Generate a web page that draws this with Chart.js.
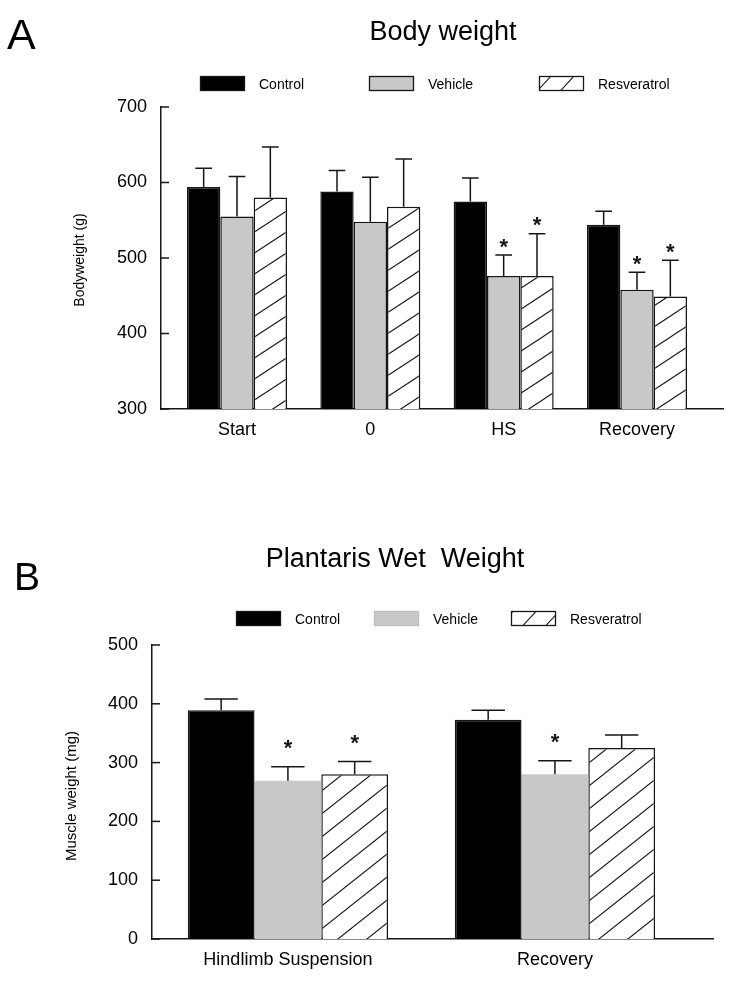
<!DOCTYPE html>
<html>
<head>
<meta charset="utf-8">
<title>Body weight / Plantaris wet weight</title>
<script src="https://cdn.jsdelivr.net/npm/chart.js@4.4.1/dist/chart.umd.min.js"></script>
<style>
  html, body { margin: 0; padding: 0; background: #fff; }
  .panel { width: 736px; height: 494px; }
  canvas { display: block; }
</style>
</head>
<body>
<div class="panel"><canvas id="chartA" width="736" height="494"></canvas></div>
<div class="panel"><canvas id="chartB" width="736" height="494"></canvas></div>
<script>
// ------------------------------------------------------------
// Data
// ------------------------------------------------------------
const groupNames = ['Control', 'Vehicle', 'Resveratrol'];

// Panel A - body weight (g)
const timepointsA = ['Start', '0', 'HS', 'Recovery'];
const controlA = [594, 588, 575, 544];
const controlErrA = [25, 28, 31, 18];
const vehicleA = [555, 548, 476, 458];
const vehicleErrA = [53, 59, 28, 23];
const resveratrolA = [580, 568, 476, 449];
const resveratrolErrA = [67, 63, 56, 48];
const vehicleSigA = [false, false, true, true];
const resveratrolSigA = [false, false, true, true];
const yTicksA = [300, 400, 500, 600, 700];

// Panel B - plantaris wet weight (mg)
const conditionsB = ['Hindlimb Suspension', 'Recovery'];
const controlB = [389, 373];
const controlErrB = [19, 16];
const vehicleB = [269, 280];
const vehicleErrB = [24, 23];
const resveratrolB = [280, 325];
const resveratrolErrB = [22, 22];
const vehicleSigB = [true, true];
const resveratrolSigB = [true, false];
const yTicksB = [0, 100, 200, 300, 400, 500];

// ------------------------------------------------------------
const INK = '#161616';
const GREY = '#c8c8c8';
const FONT = "'Liberation Sans', Arial, Helvetica, sans-serif";

function makeHatch(w, h, lw) {
  const tile = document.createElement('canvas');
  tile.width = w;
  tile.height = h;
  const c = tile.getContext('2d');
  c.fillStyle = '#fff';
  c.fillRect(0, 0, w, h);
  c.strokeStyle = INK;
  c.lineWidth = lw;
  c.beginPath();
  [-1, 0, 1].forEach(k => {
    c.moveTo(-w, 2 * h + k * h);
    c.lineTo(2 * w, -h + k * h);
  });
  c.stroke();
  return c.createPattern(tile, 'repeat');
}

function series(label, values, errs, sig, fill, stroke, bw) {
  return {
    label,
    data: values.map((v, i) => ({ x: i, y: v })),
    err: errs,
    sig,
    backgroundColor: fill,
    borderColor: stroke,
    borderWidth: bw,
    barPercentage: 1,
    categoryPercentage: 0.75,
  };
}

// Draws error bars, asterisks, inward y ticks, titles and the legend
function figurePlugin(fig) {
  return {
    id: 'figure',
    afterDatasetsDraw(chart) {
      const ctx = chart.ctx;
      const ys = chart.scales.y;
      ctx.save();
      chart.data.datasets.forEach((ds, d) => {
        const meta = chart.getDatasetMeta(d);
        meta.data.forEach((bar, i) => {
          const top = ys.getPixelForValue(ds.data[i].y);
          const cap = ys.getPixelForValue(ds.data[i].y + ds.err[i]);
          const half = bar.width / 4;
          ctx.strokeStyle = INK;
          ctx.lineWidth = 1.5;
          ctx.beginPath();
          ctx.moveTo(bar.x, top);
          ctx.lineTo(bar.x, cap);
          ctx.moveTo(bar.x - half, cap);
          ctx.lineTo(bar.x + half, cap);
          ctx.stroke();
          if (ds.sig && ds.sig[i]) {
            ctx.fillStyle = INK;
            ctx.font = 'bold 22px ' + FONT;
            ctx.textAlign = 'center';
            ctx.textBaseline = 'alphabetic';
            ctx.fillText('*', bar.x, cap - fig.starGap + 12.6);
          }
        });
      });
      ctx.restore();
    },
    afterDraw(chart) {
      const ctx = chart.ctx;
      const ys = chart.scales.y;
      const left = chart.chartArea.left;
      ctx.save();
      // tick marks point into the plot
      ctx.strokeStyle = INK;
      ctx.lineWidth = 1.5;
      ys.ticks.forEach(t => {
        const py = ys.getPixelForValue(t.value);
        ctx.beginPath();
        ctx.moveTo(left, py);
        ctx.lineTo(left + 8, py);
        ctx.stroke();
      });

      ctx.fillStyle = '#000';
      ctx.textBaseline = 'alphabetic';
      ctx.textAlign = 'left';
      ctx.font = fig.letterSize + 'px ' + FONT;
      ctx.fillText(fig.letter, fig.letterX, fig.letterY);

      ctx.textAlign = 'center';
      ctx.font = fig.titleSize + 'px ' + FONT;
      ctx.fillText(fig.title, fig.titleX, fig.titleY);

      // y title
      ctx.save();
      ctx.translate(fig.yTitleX, fig.yTitleY);
      ctx.rotate(-Math.PI / 2);
      ctx.textBaseline = 'middle';
      ctx.font = fig.yTitleSize + 'px ' + FONT;
      ctx.fillText(fig.yTitle, 0, 0);
      ctx.restore();

      // legend
      chart.data.datasets.forEach((ds, d) => {
        const sx = fig.legendX[d];
        const sy = fig.legendY;
        ctx.fillStyle = fig.legendFill[d] || ds.backgroundColor;
        ctx.fillRect(sx, sy, 45, 15);
        ctx.strokeStyle = fig.legendStroke[d];
        ctx.lineWidth = 1.3;
        ctx.strokeRect(sx + 0.5, sy + 0.5, 44, 14);
        ctx.fillStyle = '#000';
        ctx.textAlign = 'left';
        ctx.textBaseline = 'middle';
        ctx.font = '14px ' + FONT;
        ctx.fillText(ds.label, sx + 59, sy + 9);
      });
      ctx.restore();
    }
  };
}

function barOptions(p) {
  return {
    responsive: false,
    animation: false,
    layout: { padding: p.padding },
    plugins: { legend: { display: false }, tooltip: { enabled: false } },
    scales: {
      x: {
        type: 'linear',
        offset: false,
        min: p.xMin,
        max: p.xMax,
        grid: { display: false, drawTicks: false },
        border: { display: true, color: INK, width: 1.5 },
        afterBuildTicks: s => { s.ticks = p.labels.map((_, i) => ({ value: i })); },
        afterFit: s => { s.height = p.xHeight; },
        ticks: {
          autoSkip: false, maxRotation: 0, padding: 10, color: '#000',
          font: { family: FONT, size: 18 },
          callback: v => p.labels[v]
        }
      },
      y: {
        min: p.yMin,
        max: p.yMax,
        grid: { display: false, drawTicks: false },
        border: { display: true, color: INK, width: 1.5 },
        afterBuildTicks: s => { s.ticks = p.yTicks.map(v => ({ value: v })); },
        afterFit: s => { s.width = p.yWidth; },
        ticks: { padding: 14, color: '#000', font: { family: FONT, size: 18 } }
      }
    }
  };
}

const hatchA = makeHatch(32, 21, 1.1);
const hatchB = makeHatch(29, 23, 1.1);
const hatchLegend = makeHatch(23, 25, 1.1);

new Chart(document.getElementById('chartA'), {
  type: 'bar',
  data: {
    datasets: [
      series(groupNames[0], controlA, controlErrA, null, '#000', INK, 1.5),
      series(groupNames[1], vehicleA, vehicleErrA, vehicleSigA, GREY, INK, 1.5),
      series(groupNames[2], resveratrolA, resveratrolErrA, resveratrolSigA, hatchA, INK, 1.5),
    ]
  },
  options: barOptions({
    labels: timepointsA, yTicks: yTicksA,
    xMin: -0.57, xMax: 3.645, yMin: 300, yMax: 700,
    padding: { top: 107, right: 13, bottom: 25, left: 0 },
    xHeight: 60, yWidth: 161
  }),
  plugins: [figurePlugin({
    letter: 'A', letterSize: 43, letterX: 7, letterY: 49,
    title: 'Body weight', titleSize: 27, titleX: 443, titleY: 40,
    yTitle: 'Bodyweight (g)', yTitleX: 80, yTitleY: 260, yTitleSize: 14,
    legendX: [200, 369, 539], legendY: 76,
    legendFill: [null, null, hatchLegend],
    legendStroke: [INK, INK, INK],
    starGap: 14
  })]
});

new Chart(document.getElementById('chartB'), {
  type: 'bar',
  data: {
    datasets: [
      series(groupNames[0], controlB, controlErrB, null, '#000', INK, 1.5),
      series(groupNames[1], vehicleB, vehicleErrB, vehicleSigB, GREY, GREY, 0),
      series(groupNames[2], resveratrolB, resveratrolErrB, resveratrolSigB, hatchB, INK, 1.5),
    ]
  },
  options: barOptions({
    labels: conditionsB, yTicks: yTicksB,
    xMin: -0.509, xMax: 1.592, yMin: 0, yMax: 500,
    padding: { top: 151, right: 23, bottom: 9, left: 0 },
    xHeight: 40, yWidth: 152
  }),
  plugins: [figurePlugin({
    letter: 'B', letterSize: 39, letterX: 14, letterY: 96,
    title: 'Plantaris Wet  Weight', titleSize: 27, titleX: 395, titleY: 73,
    yTitle: 'Muscle weight (mg)', yTitleX: 72, yTitleY: 302, yTitleSize: 15,
    legendX: [236, 374, 511], legendY: 117,
    legendFill: [null, null, hatchLegend],
    legendStroke: [INK, '#bdbdbd', INK],
    starGap: 24
  })]
});
</script>
</body>
</html>
